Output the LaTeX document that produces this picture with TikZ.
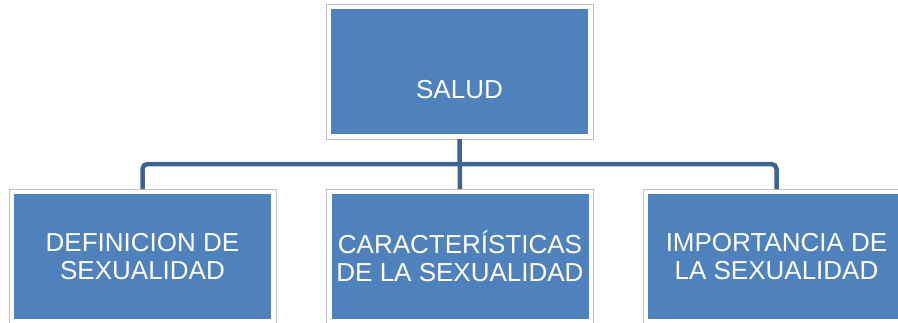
\documentclass[tikz,border=0pt]{standalone}
\usepackage{fontspec}
\setmainfont{Liberation Sans}
\usepackage{xcolor}
\definecolor{smartblue}{RGB}{79,129,189}
\definecolor{linkblue}{RGB}{62,100,148}
\definecolor{edgegray}{RGB}{192,192,192}

\begin{document}
\begin{tikzpicture}[x=1pt, y=1pt,
  unitbox/.style={draw=edgegray, line width=0.8pt, fill=white, rectangle,
    minimum width=267pt, minimum height=135pt, inner sep=0pt, outer sep=0pt,
    text=white, align=center, font=\fontsize{26}{27.7}\selectfont,
    path picture={\fill[smartblue] ([shift={(5pt,5pt)}]path picture bounding box.south west)
      rectangle ([shift={(-5pt,-5pt)}]path picture bounding box.north east);}},
  link/.style={draw=linkblue, line width=4.5pt, rounded corners=5pt}]
\useasboundingbox (0,0) rectangle (898,322);
\clip (0,0) rectangle (898,322);

\node[unitbox, text height=53.6pt, text depth=0pt] (salud) at (459.5,250.5) {SALUD};
\node[unitbox] (defin) at (142.5,65.5) {DEFINICION DE\\SEXUALIDAD};
\node[unitbox] (caract) at (460,65.5) {CARACTERÍSTICAS\\DE LA SEXUALIDAD};
\node[unitbox] (import) at (776.5,65.5) {IMPORTANCIA DE\\LA SEXUALIDAD};

\coordinate (bus) at (459.5,158);
\draw[link] (defin.north) |- (bus) -| (import.north);
\draw[link] (salud.south) -- (caract.north);
\end{tikzpicture}
\end{document}
